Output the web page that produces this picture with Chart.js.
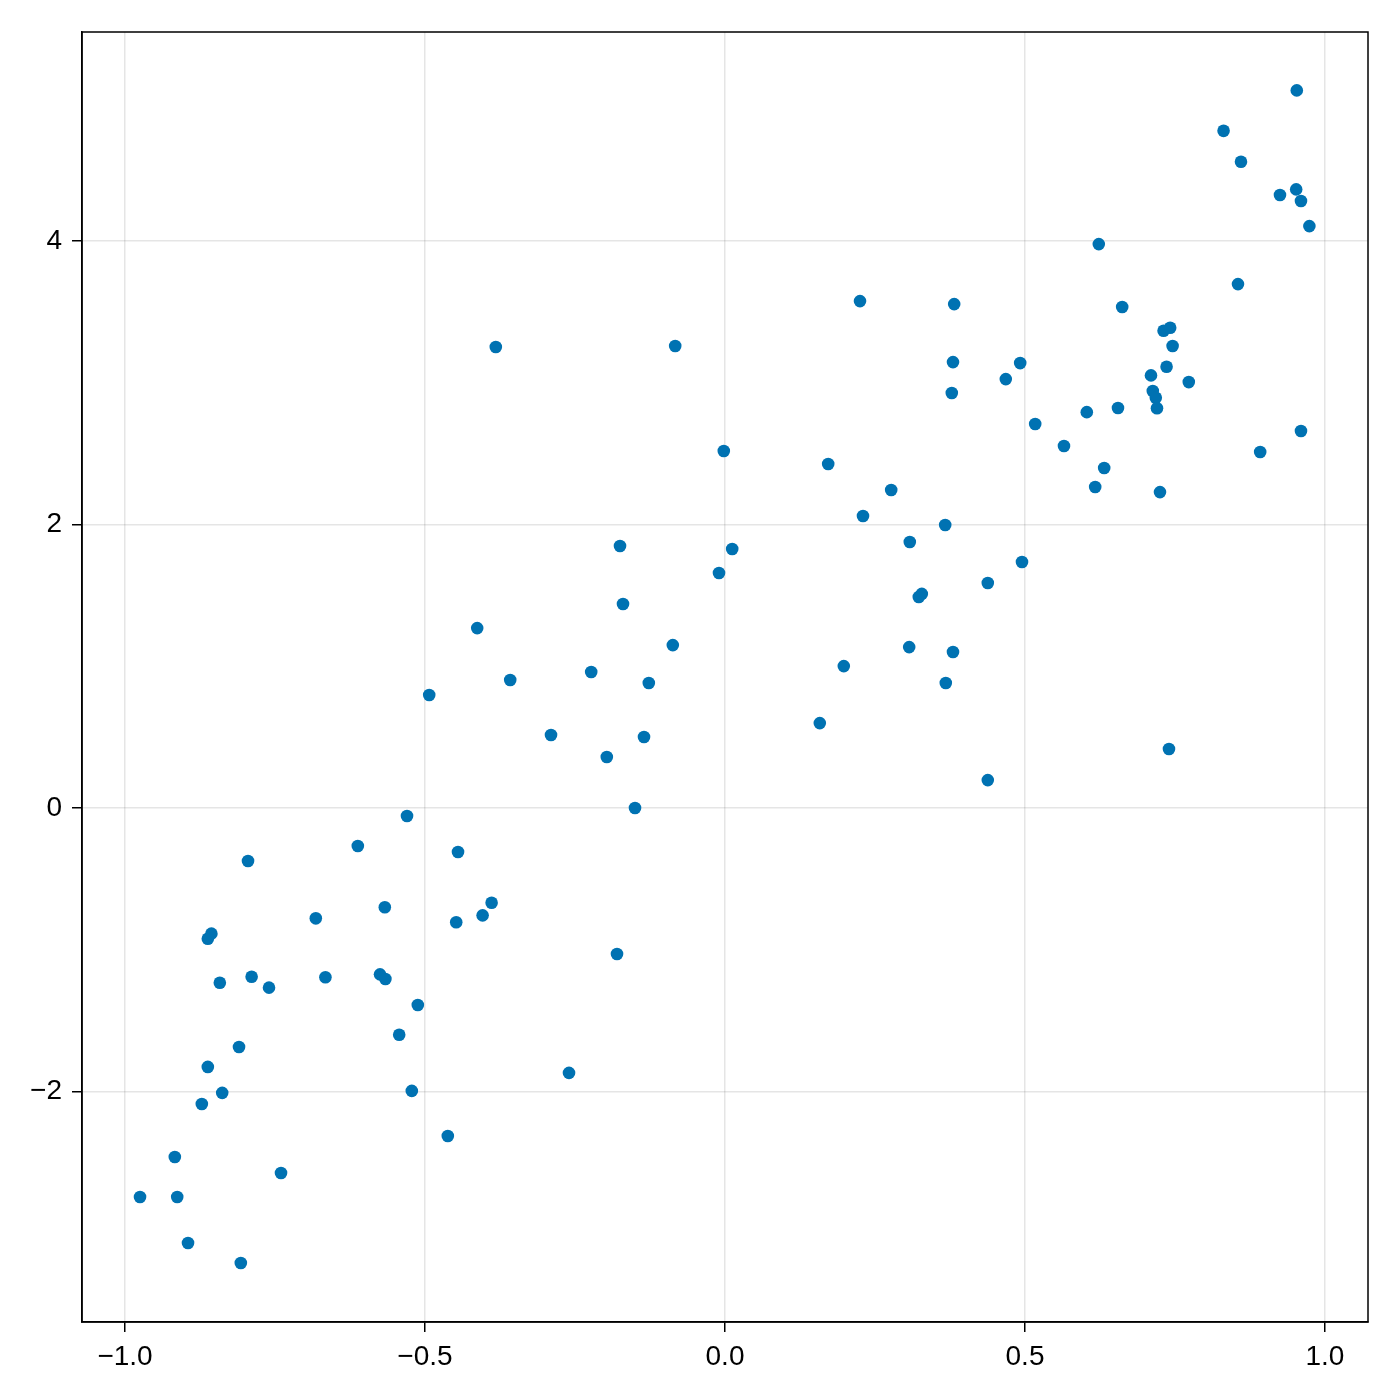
<!DOCTYPE html>
<html>
<head>
<meta charset="utf-8">
<script src="https://cdn.jsdelivr.net/npm/chart.js@4"></script>
<style>
  html, body { margin: 0; padding: 0; background: #fff; }
  #wrap { width: 1400px; height: 1400px; }
</style>
</head>
<body>
<div id="wrap"><canvas id="scatter"></canvas></div>
<script>
// values
const xValues = [
  0.953, 0.831, 0.860, 0.925, 0.952, 0.960, 0.974, 0.623, 0.855, 0.225,
  0.382, 0.662, 0.731, 0.742, 0.746, -0.382, -0.083, 0.380, 0.492, 0.736,
  0.710, 0.468, 0.773, 0.713, 0.378, 0.718, 0.603, 0.655, 0.720, 0.517,
  0.960, 0.565, -0.002, 0.892, 0.172, 0.632, 0.617, 0.277, 0.725, 0.230,
  0.367, 0.308, -0.175, 0.012, 0.495, -0.010, 0.438, 0.328, 0.323, -0.170,
  -0.413, -0.087, 0.307, 0.380, -0.223, 0.198, -0.358, -0.127, 0.368, -0.493,
  0.158, -0.290, -0.135, 0.740, -0.197, 0.438, -0.150, -0.530, -0.612, -0.445,
  -0.795, -0.389, -0.567, -0.404, -0.682, -0.448, -0.856, -0.862, -0.180, -0.575,
  -0.566, -0.789, -0.666, -0.842, -0.760, -0.512, -0.543, -0.810, -0.862, -0.260,
  -0.522, -0.838, -0.872, -0.462, -0.917, -0.740, -0.975, -0.913, -0.895, -0.807
];
const yValues = [
  5.061, 4.776, 4.558, 4.323, 4.363, 4.281, 4.104, 3.977, 3.695, 3.575,
  3.554, 3.533, 3.366, 3.387, 3.258, 3.251, 3.258, 3.145, 3.138, 3.112,
  3.051, 3.025, 3.004, 2.941, 2.927, 2.893, 2.792, 2.821, 2.819, 2.708,
  2.659, 2.553, 2.518, 2.511, 2.426, 2.398, 2.264, 2.243, 2.228, 2.059,
  1.996, 1.876, 1.848, 1.827, 1.735, 1.657, 1.587, 1.510, 1.488, 1.439,
  1.269, 1.149, 1.135, 1.100, 0.959, 1.001, 0.903, 0.882, 0.882, 0.797,
  0.599, 0.515, 0.501, 0.416, 0.360, 0.197, 0.000, -0.056, -0.268, -0.310,
  -0.374, -0.668, -0.700, -0.757, -0.778, -0.806, -0.886, -0.922, -1.030, -1.173,
  -1.206, -1.190, -1.194, -1.232, -1.267, -1.389, -1.599, -1.685, -1.826, -1.868,
  -1.995, -2.009, -2.087, -2.313, -2.461, -2.574, -2.743, -2.743, -3.068, -3.209
];
const xTicks = [-1.0, -0.5, 0.0, 0.5, 1.0];
const yTicks = [-2, 0, 2, 4];

const points = xValues.map((x, i) => ({ x: x, y: yValues[i] }));
const minus = (s) => s.replace("-", "\u2212");

// draws the top and right sides of the frame
const framePlugin = {
  id: "frame",
  afterDraw(chart) {
    const { ctx, chartArea: a } = chart;
    ctx.save();
    ctx.strokeStyle = "#000";
    ctx.lineWidth = 1.5;
    ctx.strokeRect(a.left, a.top, a.right - a.left, a.bottom - a.top);
    ctx.restore();
  },
};

Chart.defaults.font.family = "'Liberation Sans', Arial, sans-serif";

new Chart(document.getElementById("scatter").getContext("2d"), {
  type: "scatter",
  data: {
    datasets: [
      {
        data: points,
        backgroundColor: "#0072B2",
        borderWidth: 0,
        pointRadius: 6.3,
        pointHoverRadius: 6.3,
      },
    ],
  },
  options: {
    responsive: true,
    maintainAspectRatio: false,
    animation: false,
    events: [],
    layout: { padding: { top: 32, right: 32, left: 0, bottom: 0 } },
    scales: {
      x: {
        type: "linear",
        min: -1.0717,
        max: 1.0717,
        afterBuildTicks: (scale) => { scale.ticks = xTicks.map((v) => ({ value: v })); },
        afterFit: (scale) => { scale.height = 78; },
        grid: { color: "rgba(0,0,0,0.1)", lineWidth: 1.5, tickColor: "#000", tickLength: 10, tickWidth: 1.5 },
        border: { color: "#000", width: 1.5 },
        ticks: {
          color: "#000",
          font: { size: 28 },
          padding: 8,
          maxRotation: 0,
          callback: (v) => minus(Number(v).toFixed(1)),
        },
      },
      y: {
        type: "linear",
        min: -3.625,
        max: 5.473,
        afterBuildTicks: (scale) => { scale.ticks = yTicks.map((v) => ({ value: v })); },
        afterFit: (scale) => { scale.width = 82; },
        grid: { color: "rgba(0,0,0,0.1)", lineWidth: 1.5, tickColor: "#000", tickLength: 10, tickWidth: 1.5 },
        border: { color: "#000", width: 1.5 },
        ticks: {
          color: "#000",
          font: { size: 28 },
          padding: 10,
          callback: (v) => minus(String(v)),
        },
      },
    },
    plugins: {
      legend: { display: false },
      tooltip: { enabled: false },
    },
  },
  plugins: [framePlugin],
});
</script>
</body>
</html>
